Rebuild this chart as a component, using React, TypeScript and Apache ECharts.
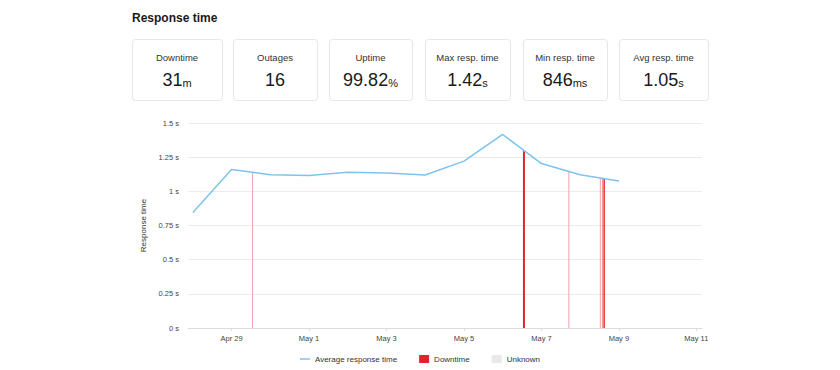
import React, { useEffect, useRef } from "react";
import * as echarts from "echarts";

// ---------- data ----------
const titleText = "Response time";
const statLabels = ["Downtime", "Outages", "Uptime", "Max resp. time", "Min resp. time", "Avg resp. time"];
const statValues = ["31", "16", "99.82", "1.42", "846", "1.05"];
const statUnits = ["m", "", "%", "s", "ms", "s"];

const lineTimes = [
  "2024-04-28 00:00", "2024-04-29 00:00", "2024-04-30 00:00", "2024-05-01 00:00",
  "2024-05-02 00:00", "2024-05-03 00:00", "2024-05-04 00:00", "2024-05-05 00:00",
  "2024-05-06 00:00", "2024-05-07 00:00", "2024-05-08 00:00", "2024-05-09 00:00",
];
const lineValues = [0.846, 1.159, 1.122, 1.115, 1.139, 1.134, 1.12, 1.221, 1.416, 1.203, 1.122, 1.076];

const downtimeTimes = [
  "2024-04-29 13:00", "2024-05-06 13:10", "2024-05-07 17:00",
  "2024-05-08 12:30", "2024-05-08 14:10", "2024-05-08 15:00",
];
const downtimeValues = [1.139, 1.294, 1.141, 1.098, 1.095, 1.094];
const downtimeMinutes = [1, 12, 1, 1, 6, 6];

const xTickDates = [
  "2024-04-29 00:00", "2024-05-01 00:00", "2024-05-03 00:00",
  "2024-05-05 00:00", "2024-05-07 00:00", "2024-05-09 00:00", "2024-05-11 00:00",
];
const xMinDate = "2024-04-27 21:00";
const xMaxDate = "2024-05-11 03:30";
const seriesNames = ["Average response time", "Downtime", "Unknown"];
const monthNames = ["Jan", "Feb", "Mar", "Apr", "May", "Jun", "Jul", "Aug", "Sep", "Oct", "Nov", "Dec"];

// ---------- helpers ----------
const ts = (s: string) => {
  const [d, t] = s.split(" ");
  const [y, m, dd] = d.split("-").map(Number);
  const [hh, mm] = (t || "00:00").split(":").map(Number);
  return Date.UTC(y, m - 1, dd, hh, mm);
};
const fmtDate = (v: number) => {
  const d = new Date(v);
  return `${monthNames[d.getUTCMonth()]} ${d.getUTCDate()}`;
};

const FONT = "'Liberation Sans', Arial, sans-serif";
const cardBoxes = [
  [132, 222], [233, 317], [329, 412], [425, 510], [523, 607], [619, 708],
];

export default function App() {
  const ref = useRef<HTMLDivElement>(null);
  useEffect(() => {
    if (!ref.current) return;
    const chart = echarts.init(ref.current, undefined, { renderer: "svg" });

    const graphics: any[] = [
      {
        type: "text",
        x: 132,
        y: 17.5,
        style: {
          text: titleText,
          fontSize: 12,
          fontWeight: "bold",
          fontFamily: FONT,
          fill: "#1a1a1a",
          align: "left",
          verticalAlign: "middle",
        },
      },
    ];
    cardBoxes.forEach(([l, r], i) => {
      const cx = (l + r) / 2;
      graphics.push({
        type: "rect",
        shape: { x: l + 0.5, y: 39.5, width: r - l, height: 61, r: 3 },
        style: { fill: "#fff", stroke: "#e6e6e6", lineWidth: 1 },
      });
      graphics.push({
        type: "text",
        x: cx,
        y: 57.7,
        style: {
          text: statLabels[i],
          fontSize: 9.5,
          fontFamily: FONT,
          fill: "#333",
          align: "center",
          verticalAlign: "middle",
        },
      });
      graphics.push({
        type: "text",
        x: cx,
        y: 79.5,
        style: {
          text: statUnits[i] ? `{v|${statValues[i]}}{u|${statUnits[i]}}` : `{v|${statValues[i]}}`,
          fontFamily: FONT,
          align: "center",
          verticalAlign: "middle",
          rich: {
            v: { fontSize: 18, fill: "#1a1a1a", fontFamily: FONT, verticalAlign: "bottom" },
            u: { fontSize: 11, fill: "#1a1a1a", fontFamily: FONT, verticalAlign: "bottom" },
          },
        },
      });
    });

    const tickVals = xTickDates.map(ts);

    chart.setOption({
      animation: false,
      textStyle: { fontFamily: FONT },
      graphic: graphics,
      grid: { left: 188, right: 138, top: 123, bottom: 42, outerBoundsMode: "none" },
      legend: {
        data: [
          { name: seriesNames[0], icon: "path://M0,0H10V1.5H0Z" },
          { name: seriesNames[1], icon: "rect" },
          { name: seriesNames[2], icon: "rect" },
        ],
        left: "center",
        top: 350,
        itemWidth: 10,
        itemHeight: 8,
        itemGap: 22,
        textStyle: { fontSize: 8, color: "#333", fontFamily: FONT },
      },
      xAxis: {
        type: "value",
        min: ts(xMinDate),
        max: ts(xMaxDate),
        splitLine: { show: false },
        axisLine: { lineStyle: { color: "#dcdcdc" } },
        axisTick: { show: true, customValues: tickVals, length: 3, lineStyle: { color: "#dcdcdc" } },
        axisLabel: {
          customValues: tickVals,
          formatter: (v: number) => fmtDate(v),
          fontSize: 7.5,
          color: "#444",
          margin: 6,
          fontFamily: FONT,
        },
      },
      yAxis: {
        type: "value",
        min: 0,
        max: 1.5,
        interval: 0.25,
        name: "Response time",
        nameLocation: "middle",
        nameRotate: 90,
        nameGap: 40,
        nameTextStyle: { fontSize: 8, color: "#333", fontFamily: FONT },
        axisLine: { show: false },
        axisTick: { show: false },
        splitLine: { lineStyle: { color: "#ebebeb" } },
        axisLabel: {
          formatter: (v: number) => `${v} s`,
          fontSize: 7.5,
          color: "#444",
          margin: 9,
          fontFamily: FONT,
        },
      },
      series: [
        {
          name: seriesNames[0],
          type: "line",
          symbol: "none",
          color: "#7dc3ee",
          itemStyle: { color: "#7dc3ee" },
          lineStyle: { width: 1.5, color: "#7dc3ee" },
          data: lineTimes.map((t, i) => [ts(t), lineValues[i]]),
          z: 3,
        },
        {
          name: seriesNames[1],
          type: "custom",
          itemStyle: { color: "#e4222c" },
          encode: { x: 0, y: 1 },
          data: downtimeTimes.map((t, i) => [ts(t), downtimeValues[i], downtimeMinutes[i]]),
          renderItem: (params: any, api: any) => {
            const x = api.value(0);
            const y = api.value(1);
            const m = api.value(2);
            const p0 = api.coord([x, 0]);
            const p1 = api.coord([x, y]);
            const w = m >= 10 ? 2 : 1;
            return {
              type: "rect",
              shape: { x: p0[0] - w / 2, y: p1[1], width: w, height: p0[1] - p1[1] },
              style: { fill: m >= 4 ? "#e0262f" : "#f2a2a9" },
            };
          },
          z: 2,
        },
        {
          name: seriesNames[2],
          type: "bar",
          itemStyle: { color: "#e9e9e9" },
          data: [],
        },
      ],
    });
    return () => chart.dispose();
  }, []);

  return (
    <div style={{ position: "absolute", left: 0, top: 0, width: 840, height: 370, background: "#fff" }}>
      <div ref={ref} style={{ width: 840, height: 370 }} />
    </div>
  );
}
